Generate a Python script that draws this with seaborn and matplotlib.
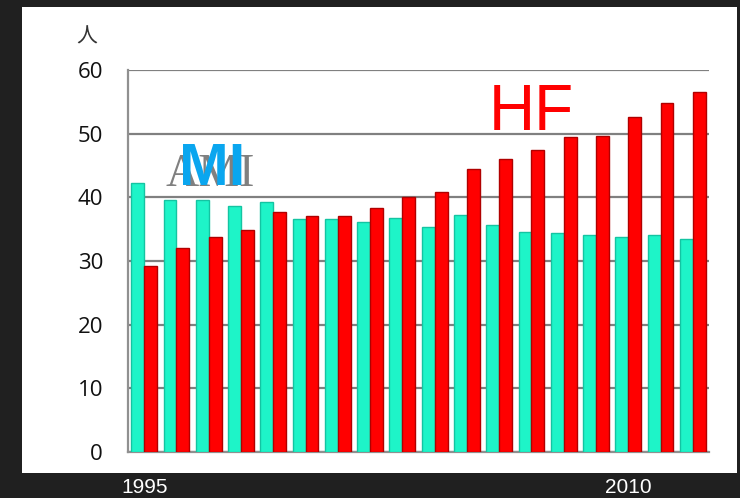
import matplotlib
matplotlib.use("Agg")
import matplotlib.pyplot as plt
import seaborn as sns
import pandas as pd
from matplotlib.patches import Rectangle

# Annual patient counts by diagnosis
years = list(range(1995, 2013))
ami = [42.2, 39.6, 39.6, 38.6, 39.3, 36.6, 36.6, 36.2, 36.8, 35.3,
       37.3, 35.7, 34.6, 34.4, 34.1, 33.7, 34.1, 33.5]
hf = [29.2, 32.1, 33.7, 34.8, 37.7, 37.0, 37.0, 38.3, 40.1, 40.8,
      44.4, 46.0, 47.4, 49.4, 49.7, 52.6, 54.8, 56.6]
series_names = ["AMI", "HF"]
yticks = [0, 10, 20, 30, 40, 50, 60]
shown_years = {1995: "1995", 2010: "2010"}

df = pd.DataFrame({
    "year": years * 2,
    "count": ami + hf,
    "disease": [series_names[0]] * len(years) + [series_names[1]] * len(years),
})

sns.set_theme(style="white")
plt.rcParams["font.family"] = ["Open Sans", "DejaVu Sans"]

fig = plt.figure(figsize=(7.40, 4.98), dpi=100)
fig.patch.set_facecolor("#202020")

# white slide panel behind the chart
fig.patches.append(Rectangle((0.0297, 0.0502), 0.9663, 0.9358,
                             transform=fig.transFigure, facecolor="white",
                             edgecolor="none", zorder=-10))

ax = fig.add_axes([0.173, 0.0924, 0.785, 0.767])
ax.set_facecolor("none")
ax.set_zorder(2)

palette = {"AMI": "#1ef4c8", "HF": "#ff0000"}
sns.barplot(data=df, x="year", y="count", hue="disease", palette=palette,
            saturation=1, width=0.8, gap=0, ax=ax, legend=False, zorder=3)

edge = {"AMI": "#14c4a2", "HF": "#b00000"}
for container, name in zip(ax.containers, series_names):
    for bar in container:
        bar.set_edgecolor(edge[name])
        bar.set_linewidth(1.0)

ax.set_ylim(0, 60)
ax.set_yticks(yticks)
ax.set_yticklabels([str(v) for v in yticks], fontsize=16, color="#111111")
ax.yaxis.grid(True, color="#808080", linewidth=1.6, zorder=1)
ax.set_axisbelow(True)

ticks = ax.get_xticks()
pos = [t for t, y in zip(ticks, years) if y in shown_years]
ax.set_xticks(pos)
ax.set_xticklabels([shown_years[y] for y in years if y in shown_years],
                   fontsize=15, color="white", family="Liberation Sans")
ax.tick_params(axis="x", length=0, pad=19)
ax.tick_params(axis="y", length=0, pad=18)
ax.set_xlabel("")
ax.set_ylabel("")

for side in ["top", "right"]:
    ax.spines[side].set_visible(False)
for side in ["left", "bottom"]:
    ax.spines[side].set_color("#909090")
    ax.spines[side].set_linewidth(1.6)

# unit label and series captions
fig.text(87 / 740, 1 - 37 / 498, "人", fontsize=15, color="#333333",
         family=["Noto Sans CJK JP", "DejaVu Sans"], ha="center", va="center")
ax.text(2.05, 41.8, "AMI", fontsize=33, color="#808080",
        family="Liberation Serif", ha="center", va="baseline", zorder=5)
ax.text(2.1, 42.0, "MI", fontsize=43, color="#0aa6ef", fontweight="bold",
        family="Liberation Sans", ha="center", va="baseline", zorder=6)
ax.text(12.0, 50.6, "HF", fontsize=46, color="#ff0000",
        family="Liberation Sans", ha="center", va="baseline", zorder=6)

fig.savefig("out.png", dpi=100, facecolor=fig.get_facecolor())
